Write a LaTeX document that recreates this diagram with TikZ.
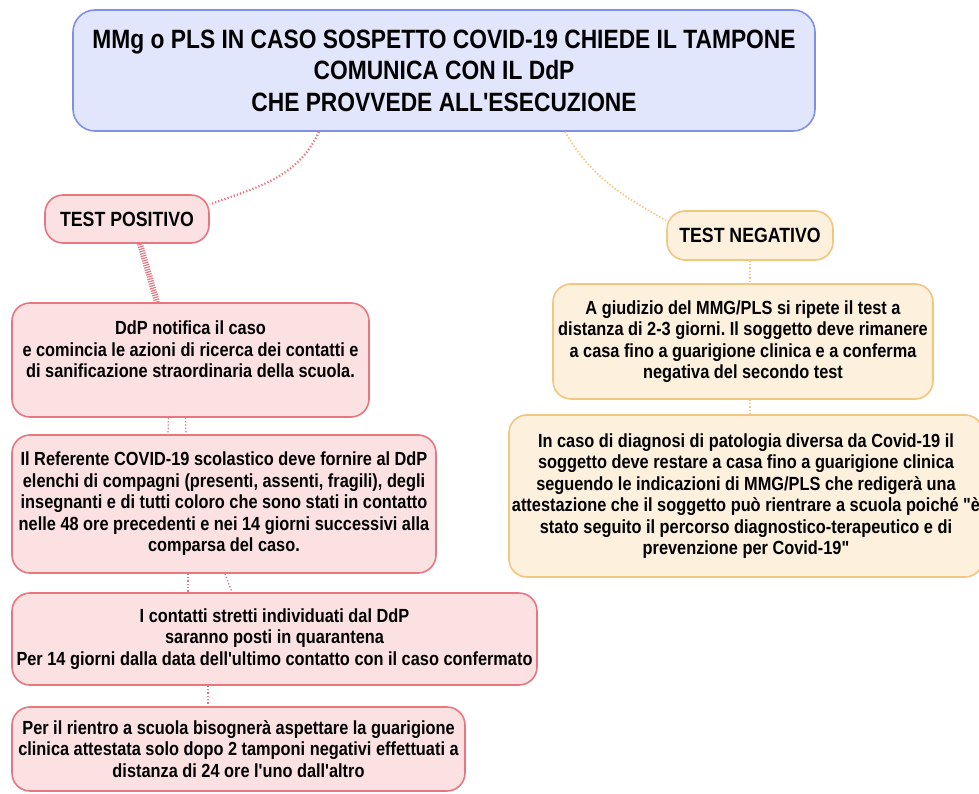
\documentclass[tikz,border=0pt]{standalone}
\usepackage{fontspec}
\setmainfont{Liberation Sans}[FakeStretch=0.86, Ligatures=TeXOff]
\frenchspacing
\definecolor{bluefill}{RGB}{226,230,252}
\definecolor{blueline}{RGB}{128,144,232}
\definecolor{pinkfill}{RGB}{252,225,227}
\definecolor{pinkline}{RGB}{232,118,128}
\definecolor{orfill}{RGB}{253,240,221}
\definecolor{orline}{RGB}{242,198,128}
\begin{document}
\begin{tikzpicture}[x=1pt, y=-1pt,
    box/.style={draw, rounded corners=18pt, line width=1.6pt, align=center,
      inner sep=3pt, font=\bfseries\fontsize{19}{21.5}\selectfont},
    testbox/.style={font=\bfseries\fontsize{20.6}{22}\selectfont},
    link/.style={line width=1.3pt, dotted}]
    \useasboundingbox (0,0) rectangle (979,794);

    \node [box, draw=blueline, fill=bluefill, rounded corners=22pt,
      minimum width=742pt, minimum height=121pt,
      font=\bfseries\fontsize{26.5}{31.5}\selectfont] (top) at (444,70.5)
      {MMg o PLS IN CASO SOSPETTO COVID-19 CHIEDE IL TAMPONE\\
        COMUNICA CON IL DdP\\ CHE PROVVEDE ALL'ESECUZIONE};

    % ramo positivo
    \begin{scope}[every node/.style={box, draw=pinkline, fill=pinkfill}]
      \node [testbox, minimum width=164pt, minimum height=48pt] (pos) at (127,219) {TEST POSITIVO};
      \node [minimum width=357pt, minimum height=114pt] (notif) at (190.5,360)
      {DdP notifica il caso\\ e comincia le azioni di ricerca dei contatti e\\
        di sanificazione straordinaria della scuola.\\ \mbox{}};
      \node [minimum width=424pt, minimum height=138pt] (ref) at (224,504)
      {Il Referente COVID-19 scolastico deve fornire al DdP\\
        elenchi di compagni (presenti, assenti, fragili), degli\\
        insegnanti e di tutti coloro che sono stati in contatto\\
        nelle 48 ore precedenti e nei 14 giorni successivi alla\\
        comparsa del caso.};
      \node [minimum width=525pt, minimum height=92pt] (quar) at (274.5,639)
      {I contatti stretti individuati dal DdP\\ saranno posti in quarantena\\
        Per 14 giorni dalla data dell'ultimo contatto con il caso confermato};
      \node [minimum width=453pt, minimum height=84pt] (rientro) at (238.5,749)
      {Per il rientro a scuola bisognerà aspettare la guarigione\\
        clinica attestata solo dopo 2 tamponi negativi effettuati a\\
        distanza di 24 ore l'uno dall'altro};
    \end{scope}

    % ramo negativo
    \begin{scope}[every node/.style={box, draw=orline, fill=orfill}]
      \node [testbox, minimum width=166pt, minimum height=49pt] (neg) at (750,235.5) {TEST NEGATIVO};
      \node [minimum width=380pt, minimum height=115pt] (giud) at (743,341.5)
      {A giudizio del MMG/PLS si ripete il test a\\
        distanza di 2-3 giorni. Il soggetto deve rimanere\\
        a casa fino a guarigione clinica e a conferma\\
        negativa del secondo test};
      \node [minimum width=462pt, minimum height=162pt] (diag) at (746,496)
      {In caso di diagnosi di patologia diversa da Covid-19 il\\
        soggetto deve restare a casa fino a guarigione clinica\\
        seguendo le indicazioni di MMG/PLS che redigerà una\\
        attestazione che il soggetto può rientrare a scuola poiché "è\\
        stato seguito il percorso diagnostico-terapeutico e di\\
        prevenzione per Covid-19"};
    \end{scope}

    \begin{scope}[link, pinkline]
      \draw [line width=2.2pt] ([xshift=-125]top.south) to [out=-115, in=20] (pos.10);
      \draw [line width=6pt, dash pattern=on 1.2pt off 1.2pt] ([xshift=13]pos.south) -- ([xshift=-33.5]notif.north);
      \draw ([xshift=-22]notif.south) -- ([xshift=-56]ref.north);
      \draw ([xshift=-5]notif.south) -- ([xshift=-38]ref.north);
      \draw ([xshift=-36]ref.south) -- ([xshift=-86.5]quar.north);
      \draw ([xshift=1]ref.south) -- ([xshift=-42.5]quar.north);
      \draw ([xshift=-66.5]quar.south) -- ([xshift=-30.5]rientro.north);
    \end{scope}
    \begin{scope}[link, orline]
      \draw [line width=1.8pt] ([xshift=121]top.south) to [out=-60, in=150] (neg.170);
      \draw (neg.south) -- (neg.south |- giud.north);
      \draw ([xshift=7]giud.south) -- ([xshift=4]diag.north);
    \end{scope}
  \end{tikzpicture}
\end{document}
